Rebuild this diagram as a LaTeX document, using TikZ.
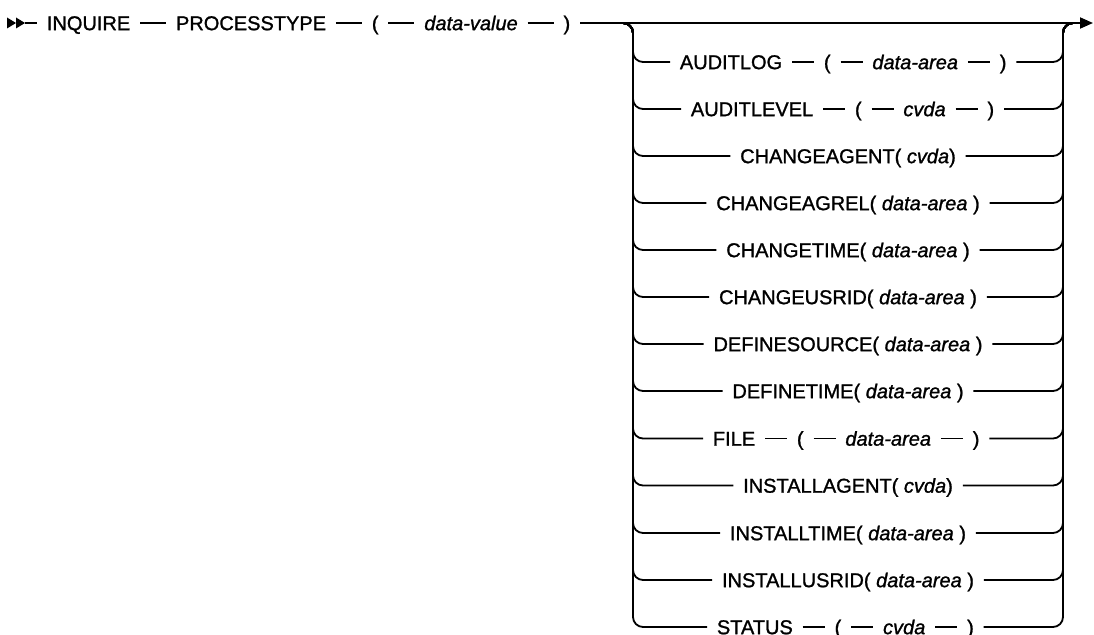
\documentclass[tikz,border=0pt]{standalone}
\usepackage{fontspec}
\setmainfont{Liberation Sans}[FakeBold=1.2]
\usetikzlibrary{positioning, arrows.meta}

\begin{document}
\begin{tikzpicture}[x=1pt, y=-1pt, line width=1.8pt,
          tok/.style={font=\fontsize{20}{22}\selectfont, inner xsep=9pt,
            inner ysep=0pt, text height=14.3pt, text depth=0pt},
          rail/.style={rounded corners=10pt},
          node distance=22pt,
        ]
          \useasboundingbox (0,0) rectangle (1094,634);
          \coordinate (start) at (25,23);
          \coordinate (stop)  at (1093,23);
          \coordinate (lfork) at (623,23);
          \coordinate (ltop)  at (633,23);
          \coordinate (rtop)  at (1063,23);
          \coordinate (rfork) at (1073,23);

          \node[tok, anchor=west] (inquire) at (37,23) {INQUIRE};
          \node[tok, right=26pt of inquire] (ptype)  {PROCESSTYPE};
          \node[tok, right=26pt of ptype]   (lpar)   {(};
          \node[tok, right=26pt of lpar]    (dvalue) {\textit{data-value}};
          \node[tok, right=26pt of dvalue]  (rpar)   {)};
          \fill (start) -- ++(-9,-5.5) -- ++(0,11) -- cycle;
          \fill (16,23) -- ++(-9,-5.5) -- ++(0,11) -- cycle;
          \draw[-{Triangle[length=13pt, width=11pt]}]
            (start) -- (inquire) -- (ptype) -- (lpar) -- (dvalue) -- (rpar) -- (stop);

          \node[tok, anchor=west] (alog) at (670,62) {AUDITLOG};
          \node[tok, right=of alog]     (aloglp)   {(};
          \node[tok, right=of aloglp]   (alogarea) {\textit{data-area}};
          \node[tok, right=of alogarea] (alogrp)   {)};
          \draw (alog) -- (aloglp) -- (alogarea) -- (alogrp);
          \draw[rail] (lfork) -- (ltop) -- (ltop |- alog) -- (alog)
                      (alogrp) -- (rtop |- alogrp) -- (rtop) -- (rfork);

          \node[tok, anchor=west] (alev) at (681,109) {AUDITLEVEL};
          \node[tok, right=of alev]     (alevlp)   {(};
          \node[tok, right=of alevlp]   (alevcvda) {\textit{cvda}};
          \node[tok, right=of alevcvda] (alevrp)   {)};
          \draw (alev) -- (alevlp) -- (alevcvda) -- (alevrp);
          \draw[rail] (lfork) -- (ltop) -- (ltop |- alev) -- (alev)
                      (alevrp) -- (rtop |- alevrp) -- (rtop) -- (rfork);

          \node[tok] (cagent) at (848,156) {CHANGEAGENT( \textit{cvda})};
          \draw[rail] (lfork) -- (ltop) -- (ltop |- cagent) -- (cagent)
                      (cagent) -- (rtop |- cagent) -- (rtop) -- (rfork);

          \node[tok] (cagrel) at (848,203) {CHANGEAGREL( \textit{data-area} )};
          \draw[rail] (lfork) -- (ltop) -- (ltop |- cagrel) -- (cagrel)
                      (cagrel) -- (rtop |- cagrel) -- (rtop) -- (rfork);

          \node[tok] (ctime) at (848,250) {CHANGETIME( \textit{data-area} )};
          \draw[rail] (lfork) -- (ltop) -- (ltop |- ctime) -- (ctime)
                      (ctime) -- (rtop |- ctime) -- (rtop) -- (rfork);

          \node[tok] (cusrid) at (848,297) {CHANGEUSRID( \textit{data-area} )};
          \draw[rail] (lfork) -- (ltop) -- (ltop |- cusrid) -- (cusrid)
                      (cusrid) -- (rtop |- cusrid) -- (rtop) -- (rfork);

          \node[tok] (dsource) at (848,344) {DEFINESOURCE( \textit{data-area} )};
          \draw[rail] (lfork) -- (ltop) -- (ltop |- dsource) -- (dsource)
                      (dsource) -- (rtop |- dsource) -- (rtop) -- (rfork);

          \node[tok] (dtime) at (848,391) {DEFINETIME( \textit{data-area} )};
          \draw[rail] (lfork) -- (ltop) -- (ltop |- dtime) -- (dtime)
                      (dtime) -- (rtop |- dtime) -- (rtop) -- (rfork);

          \node[tok, anchor=west] (file) at (703,438.5) {FILE};
          \node[tok, right=of file]     (filelp)   {(};
          \node[tok, right=of filelp]   (filearea) {\textit{data-area}};
          \node[tok, right=of filearea] (filerp)   {)};
          \draw (file) -- (filelp) -- (filearea) -- (filerp);
          \draw[rail] (lfork) -- (ltop) -- (ltop |- file) -- (file)
                      (filerp) -- (rtop |- filerp) -- (rtop) -- (rfork);

          \node[tok] (iagent) at (848,485.5) {INSTALLAGENT( \textit{cvda})};
          \draw[rail] (lfork) -- (ltop) -- (ltop |- iagent) -- (iagent)
                      (iagent) -- (rtop |- iagent) -- (rtop) -- (rfork);

          \node[tok] (itime) at (848,533) {INSTALLTIME( \textit{data-area} )};
          \draw[rail] (lfork) -- (ltop) -- (ltop |- itime) -- (itime)
                      (itime) -- (rtop |- itime) -- (rtop) -- (rfork);

          \node[tok] (iusrid) at (848,580) {INSTALLUSRID( \textit{data-area} )};
          \draw[rail] (lfork) -- (ltop) -- (ltop |- iusrid) -- (iusrid)
                      (iusrid) -- (rtop |- iusrid) -- (rtop) -- (rfork);

          \node[tok, anchor=west] (stat) at (707,627) {STATUS};
          \node[tok, right=of stat]     (statlp)   {(};
          \node[tok, right=of statlp]   (statcvda) {\textit{cvda}};
          \node[tok, right=of statcvda] (statrp)   {)};
          \draw (stat) -- (statlp) -- (statcvda) -- (statrp);
          \draw[rail] (lfork) -- (ltop) -- (ltop |- stat) -- (stat)
                      (statrp) -- (rtop |- statrp) -- (rtop) -- (rfork);
        \end{tikzpicture}
\end{document}
